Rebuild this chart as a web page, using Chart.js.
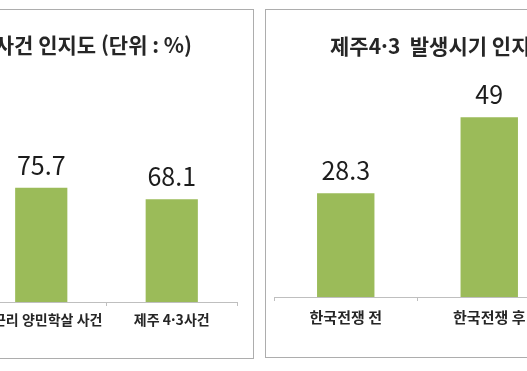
<!DOCTYPE html>
<html lang="ko">
<head>
<meta charset="utf-8">
<script src="https://cdn.jsdelivr.net/npm/chart.js@4"></script>
<style>
  html, body { margin: 0; padding: 0; background: #fff; }
  body { position: relative; width: 527px; height: 371px; overflow: hidden; }
  .panel { position: absolute; border: 1px solid #adadad; background: #fff; }
  #leftPanel { left: -40px; top: 9px; width: 292px; height: 348px; }
  #rightPanel { left: 265px; top: 9px; width: 303px; height: 347px; }
  canvas { display: block; }
</style>
</head>
<body>
<div class="panel" id="leftPanel"><canvas id="leftChart" width="292" height="348"></canvas></div>
<div class="panel" id="rightPanel"><canvas id="rightChart" width="303" height="347"></canvas></div>
<script>
// 데이터
const leftTitle = '노근리 양민학살·제주4·3 사건 인지도 (단위 : %)';
const leftLabels = ['노근리 양민학살 사건', '제주 4·3사건'];
const leftValues = [75.7, 68.1];

const rightTitle = '제주4·3  발생시기 인지도 (단위 : %)';
const rightLabels = ['한국전쟁 전', '한국전쟁 후'];
const rightValues = [28.3, 49];

const fontFamily = "'Noto Sans CJK KR', 'Noto Sans', sans-serif";
const barColor = '#9bbb59';
const axisColor = '#bfbfbf';
const textColor = '#262626';

// 막대 위 값 표시
const valueLabels = {
    id: 'valueLabels',
    afterDatasetsDraw(chart, args, opts) {
        const ctx = chart.ctx;
        const values = chart.data.datasets[0].data;
        ctx.save();
        ctx.font = `${opts.size}px ${fontFamily}`;
        ctx.fillStyle = '#1c1c1c';
        ctx.textAlign = 'center';
        ctx.textBaseline = 'alphabetic';
        chart.getDatasetMeta(0).data.forEach((bar, i) => {
            ctx.fillText(String(values[i]), bar.x, bar.y - opts.gap);
        });
        ctx.restore();
    }
};

// 패널 제목
const panelTitle = {
    id: 'panelTitle',
    afterDraw(chart, args, opts) {
        const ctx = chart.ctx;
        ctx.save();
        ctx.font = `bold ${opts.size}px ${fontFamily}`;
        ctx.fillStyle = textColor;
        ctx.textAlign = opts.align;
        ctx.textBaseline = 'middle';
        ctx.fillText(opts.text, opts.x, opts.y);
        ctx.restore();
    }
};

function makeChart(canvasId, labels, values, cfg) {
    return new Chart(document.getElementById(canvasId), {
        type: 'bar',
        data: {
            labels: labels,
            datasets: [{
                data: values,
                backgroundColor: barColor,
                barPercentage: 0.4,
                categoryPercentage: 1.0,
            }],
        },
        options: {
            responsive: false,
            animation: false,
            layout: { padding: cfg.padding },
            plugins: {
                legend: { display: false },
                tooltip: { enabled: false },
                valueLabels: { size: 25, gap: 13 },
                panelTitle: cfg.title,
            },
            scales: {
                x: {
                    offset: true,
                    grid: {
                        display: true,
                        offset: true,
                        drawOnChartArea: false,
                        drawTicks: true,
                        tickLength: 4,
                        color: axisColor,
                    },
                    border: { display: true, color: axisColor, width: 1 },
                    ticks: {
                        color: textColor,
                        padding: cfg.tickPadding,
                        maxRotation: 0,
                        autoSkip: false,
                        font: { family: fontFamily, size: cfg.tickSize, weight: 'bold' },
                    },
                    afterFit(scale) { scale.height = cfg.xHeight; },
                },
                y: { display: false, min: 0, max: cfg.yMax },
            },
        },
        plugins: [valueLabels, panelTitle],
    });
}

makeChart('leftChart', leftLabels, leftValues, {
    padding: { left: 15, right: 16, top: 141, bottom: 0 },
    xHeight: 56,
    yMax: 100,
    tickSize: 14,
    tickPadding: 5,
    title: { text: leftTitle, size: 21, align: 'right', x: 231, y: 35 },
});

makeChart('rightChart', rightLabels, rightValues, {
    padding: { left: 8, right: 8, top: 67, bottom: 0 },
    xHeight: 60,
    yMax: 60,
    tickSize: 15,
    tickPadding: 7,
    title: { text: rightTitle, size: 21, align: 'left', x: 64, y: 36 },
});
</script>
</body>
</html>
